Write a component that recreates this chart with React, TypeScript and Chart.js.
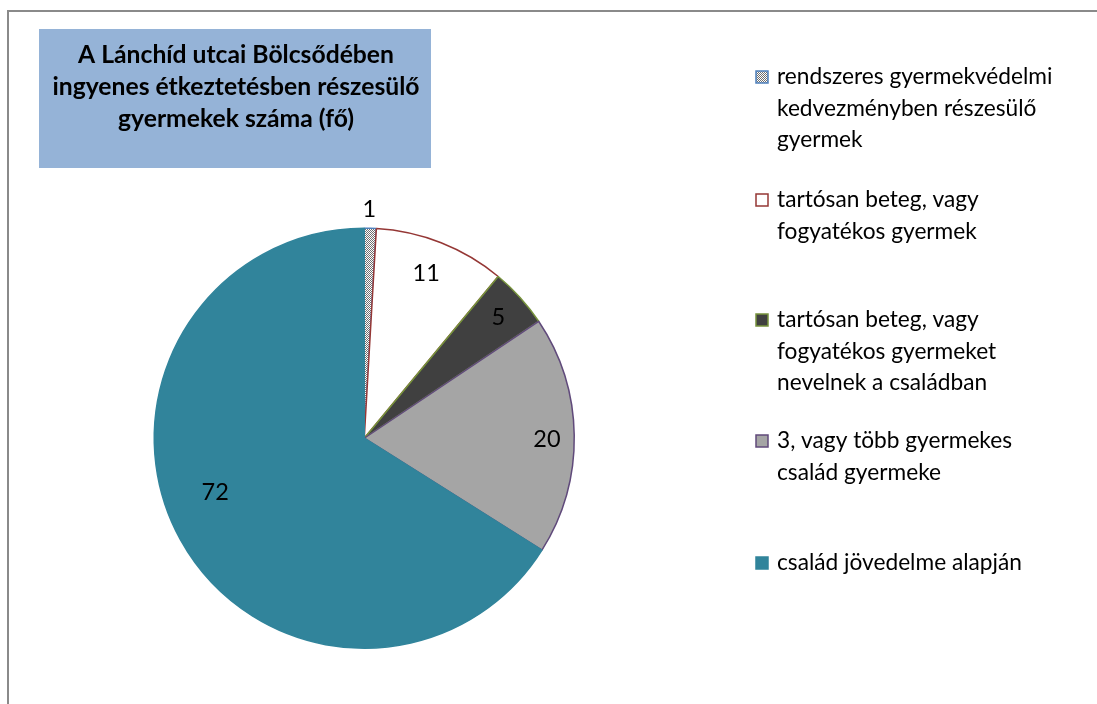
import React, { useEffect, useRef } from 'react';
import { Chart, registerables } from 'chart.js';

Chart.register(...registerables);

const categories: string[][] = [
  ['rendszeres gyermekvédelmi', 'kedvezményben részesülő', 'gyermek'],
  ['tartósan beteg, vagy', 'fogyatékos gyermek'],
  ['tartósan beteg, vagy', 'fogyatékos gyermeket', 'nevelnek a családban'],
  ['3, vagy több gyermekes', 'család gyermeke'],
  ['család jövedelme alapján'],
];
const values: number[] = [1, 11, 5, 20, 72];
const titleLines: string[] = [
  'A Lánchíd utcai Bölcsődében',
  'ingyenes étkeztetésben részesülő',
  'gyermekek száma (fő)',
];

const FONT = 'Lato, "Open Sans", sans-serif';

function makePattern(): CanvasPattern | string {
  const c = document.createElement('canvas');
  c.width = 2;
  c.height = 2;
  const g = c.getContext('2d');
  if (!g) return '#aaaaaa';
  g.fillStyle = '#ffffff';
  g.fillRect(0, 0, 2, 2);
  g.fillStyle = '#6f6f6f';
  g.fillRect(0, 0, 1, 1);
  g.fillRect(1, 1, 1, 1);
  const p = g.createPattern(c, 'repeat');
  return p || '#aaaaaa';
}

export default function App() {
  const ref = useRef<HTMLCanvasElement | null>(null);

  useEffect(() => {
    document.body.style.margin = '0';
    const canvas = ref.current;
    if (!canvas) return;
    const pattern = makePattern();
    const fills: (string | CanvasPattern)[] = [pattern, '#ffffff', '#404040', '#a5a5a5', '#31849b'];
    const borders = ['#4f81bd', '#953735', '#77933c', '#604a7b', '#31849b'];

    const labelPos = [
      { f: 1.09, da: -0.4 },
      { f: 0.84, da: -0.9 },
      { f: 0.86, da: 0 },
      { f: 0.87, da: 1.1 },
      { f: 0.755, da: 9 },
    ];
    const legendBaselines = [84, 207, 327, 448, 570];
    const lineH = 31.7;

    const decor = {
      id: 'decor',
      beforeDraw(chart: any) {
        const ctx = chart.ctx as CanvasRenderingContext2D;
        ctx.save();
        ctx.fillStyle = '#ffffff';
        ctx.fillRect(0, 0, chart.width, chart.height);
        ctx.strokeStyle = '#8a8a8a';
        ctx.lineWidth = 2;
        ctx.strokeRect(8, 11, 1200, 800);
        // title box
        ctx.fillStyle = '#95b3d7';
        ctx.fillRect(39, 29, 392, 139);
        ctx.fillStyle = '#000000';
        ctx.font = `bold 24.7px ${FONT}`;
        ctx.textAlign = 'center';
        ctx.textBaseline = 'alphabetic';
        titleLines.forEach((t, i) => ctx.fillText(t, 236, 63 + i * 32));
        ctx.restore();
      },
      afterDatasetsDraw(chart: any) {
        const ctx = chart.ctx as CanvasRenderingContext2D;
        const meta = chart.getDatasetMeta(0);
        ctx.save();
        ctx.fillStyle = '#000000';
        ctx.font = `23.5px ${FONT}`;
        ctx.textAlign = 'center';
        ctx.textBaseline = 'middle';
        meta.data.forEach((el: any, i: number) => {
          const p = el.getProps(['x', 'y', 'startAngle', 'endAngle', 'outerRadius'], true);
          const lp = labelPos[i];
          const a = (p.startAngle + p.endAngle) / 2 + (lp.da * Math.PI) / 180;
          const r = p.outerRadius * lp.f;
          ctx.fillText(String(values[i]), p.x + Math.cos(a) * r, p.y + Math.sin(a) * r);
        });
        // legend
        ctx.font = `22.7px ${FONT}`;
        ctx.textAlign = 'left';
        ctx.textBaseline = 'alphabetic';
        categories.forEach((lines, i) => {
          const b = legendBaselines[i];
          ctx.fillStyle = fills[i] as any;
          ctx.fillRect(756, b - 13, 12, 12);
          ctx.strokeStyle = borders[i];
          ctx.lineWidth = 1.5;
          ctx.strokeRect(756, b - 13, 12, 12);
          ctx.fillStyle = '#000000';
          lines.forEach((t, j) => ctx.fillText(t, 777, b + j * lineH));
        });
        ctx.restore();
      },
    };

    const chart = new Chart(canvas, {
      type: 'pie',
      data: {
        labels: categories.map((l) => l.join(' ')),
        datasets: [
          {
            data: values,
            backgroundColor: fills as any,
            borderColor: borders,
            borderWidth: 1.5,
          },
        ],
      },
      options: {
        animation: false,
        responsive: true,
        maintainAspectRatio: false,
        layout: { padding: { left: 153.5, top: 227.5, right: 522, bottom: 55 } },
        plugins: {
          legend: { display: false },
          tooltip: { enabled: false },
          title: { display: false },
        },
      },
      plugins: [decor],
    });
    const fonts: any = (document as any).fonts;
    if (fonts && fonts.ready) fonts.ready.then(() => chart.draw());
    return () => chart.destroy();
  }, []);

  return (
    <div style={{ position: 'absolute', left: 0, top: 0, width: 1097, height: 704 }}>
      <canvas ref={ref} />
    </div>
  );
}
